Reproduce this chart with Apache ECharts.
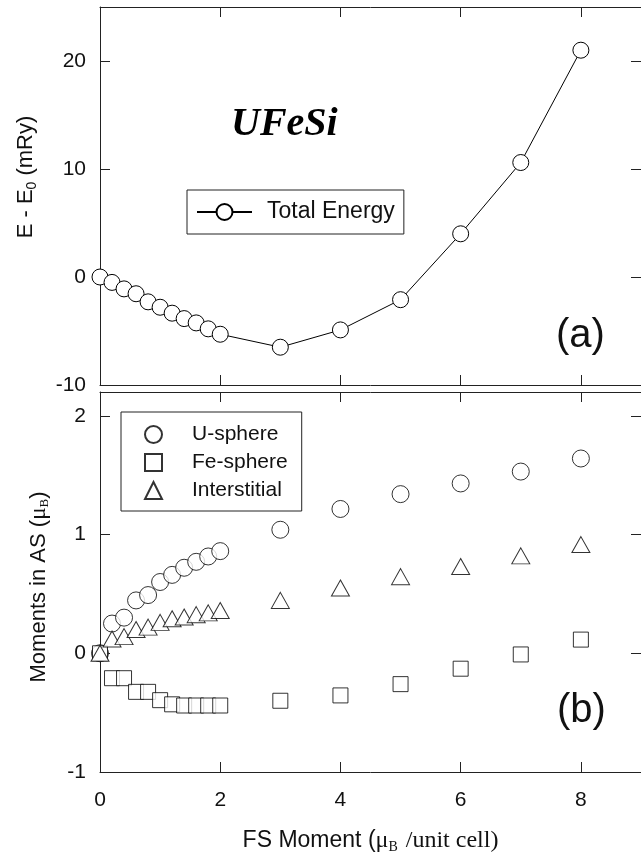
<!DOCTYPE html>
<html>
<head>
<meta charset="utf-8">
<script src="https://cdn.jsdelivr.net/npm/echarts@6/dist/echarts.min.js"></script>
<style>
	html, body { margin: 0; padding: 0; background: #fff; }
	#main { width: 641px; height: 859px; }
</style>
</head>
<body>
<div id="main"></div>
<script>
// FS moment (mu_B / unit cell)
var fsMoment = [0, 0.2, 0.4, 0.6, 0.8, 1.0, 1.2, 1.4, 1.6, 1.8, 2.0, 3, 4, 5, 6, 7, 8];
// (a) E - E0 in mRy
var totalEnergy = [0, -0.5, -1.1, -1.55, -2.3, -2.8, -3.35, -3.85, -4.25, -4.8, -5.3, -6.5, -4.9, -2.1, 4.0, 10.6, 21.0];
// (b) moments in atomic spheres (mu_B)
var uSphere = [0.0, 0.25, 0.30, 0.445, 0.49, 0.60, 0.66, 0.72, 0.77, 0.815, 0.86, 1.04, 1.215, 1.34, 1.43, 1.53, 1.64];
var feSphere = [0.0, -0.21, -0.21, -0.325, -0.325, -0.395, -0.43, -0.44, -0.44, -0.44, -0.44, -0.40, -0.355, -0.26, -0.13, -0.01, 0.115];
var interstitial = [0.0, 0.12, 0.14, 0.2, 0.22, 0.26, 0.29, 0.305, 0.325, 0.34, 0.36, 0.445, 0.55, 0.645, 0.73, 0.82, 0.915];

function pairs(ys) {
	return fsMoment.map(function(x, i) { return [x, ys[i]]; });
}

var sans = 'Liberation Sans';
var serif = 'Liberation Serif';
var ink = '#111';

function xAx(grid, pos, labels, extra) {
	var ax = {
		type: 'value',
		gridIndex: grid,
		position: pos,
		min: 0,
		max: 9,
		interval: 2,
		axisLine: { onZero: false, lineStyle: { color: '#222', width: 1 } },
		axisTick: { inside: true, length: 10, lineStyle: { color: '#222' } },
		axisLabel: { show: labels, showMaxLabel: false, margin: 18, fontFamily: sans, fontSize: 21, color: ink },
		splitLine: { show: false }
	};
	return Object.assign(ax, extra || {});
}

function yAx(grid, pos, min, max, step, labels, extra) {
	var ax = {
		type: 'value',
		gridIndex: grid,
		position: pos,
		min: min,
		max: max,
		interval: step,
		axisLine: { onZero: false, lineStyle: { color: '#222', width: 1 } },
		axisTick: { inside: true, length: 10, lineStyle: { color: '#222' } },
		axisLabel: { show: labels, showMaxLabel: false, margin: 14, fontFamily: sans, fontSize: 21, color: ink },
		splitLine: { show: false }
	};
	return Object.assign(ax, extra || {});
}

var option = {
	backgroundColor: '#fff',
	animation: false,
	grid: [
		{ left: 100, top: 7, right: -2, height: 378 },
		{ left: 100, top: 392, right: -2, height: 380 }
	],
	xAxis: [
		xAx(0, 'bottom', false),
		xAx(0, 'top', false),
		xAx(1, 'bottom', true, {
			name: '{s|FS Moment (}{m|\u03bc}{sb|B}{m| /unit cell)}',
			nameLocation: 'middle',
			nameGap: 56,
			nameTextStyle: {
				rich: {
					s: { fontFamily: sans, fontSize: 23, color: ink },
					m: { fontFamily: serif, fontSize: 24, color: ink },
					sb: { fontFamily: serif, fontSize: 14, color: ink, padding: [12, 2, 0, 0] }
				}
			}
		}),
		xAx(1, 'top', false)
	],
	yAxis: [
		yAx(0, 'left', -10, 25, 10, true, {
			name: '{s|E - E}{sb|0}{s| (mRy)}',
			nameLocation: 'middle',
			nameRotate: 90,
			nameGap: 61,
			nameTextStyle: {
				padding: [0, 0, 0, 38],
				rich: {
					s: { fontFamily: sans, fontSize: 22, color: ink },
					sb: { fontFamily: sans, fontSize: 14, color: ink, padding: [12, 0, 0, 0] }
				}
			}
		}),
		yAx(0, 'right', -10, 25, 10, false),
		yAx(1, 'left', -1, 2.2, 1, true, {
			name: '{s|Moments in AS (}{m|\u03bc}{sb|B}{s|)}',
			nameLocation: 'middle',
			nameRotate: 90,
			nameGap: 49,
			nameTextStyle: {
				padding: [0, 10, 0, 0],
				rich: {
					s: { fontFamily: sans, fontSize: 22, color: ink },
					m: { fontFamily: serif, fontSize: 23, color: ink },
					sb: { fontFamily: serif, fontSize: 13, color: ink, padding: [12, 0, 0, 0] }
				}
			}
		}),
		yAx(1, 'right', -1, 2.2, 1, false)
	],
	legend: [{
		data: ['Total Energy'],
		left: 187,
		top: 190,
		padding: [10, 9, 10, 9],
		borderColor: '#222',
		borderWidth: 1,
		itemWidth: 55,
		itemHeight: 20,
		selectedMode: false,
		textStyle: { fontFamily: sans, fontSize: 23, color: ink, lineHeight: 24, padding: [0, 0, 0, 10] }
	}, {
		data: ['U-sphere', 'Fe-sphere', 'Interstitial'],
		orient: 'vertical',
		left: 121,
		top: 412,
		padding: [12, 14, 10, 23],
		borderColor: '#222',
		borderWidth: 1,
		itemWidth: 17,
		itemHeight: 17,
		itemGap: 7,
		selectedMode: false,
		textStyle: { fontFamily: sans, fontSize: 21, color: ink, lineHeight: 20, padding: [0, 0, 0, 25] }
	}],
	graphic: [
		{ type: 'text', left: 231, top: 105, style: { text: 'UFeSi', font: 'italic bold 40px "Liberation Serif"', fill: '#000' } },
		{ type: 'text', left: 556, top: 316, style: { text: '(a)', font: '40px "Liberation Sans"', fill: ink } },
		{ type: 'text', left: 557, top: 691, style: { text: '(b)', font: '40px "Liberation Sans"', fill: ink } }
	],
	series: [{
		name: 'Total Energy',
		type: 'line',
		xAxisIndex: 0,
		yAxisIndex: 0,
		data: pairs(totalEnergy),
		symbol: 'circle',
		symbolSize: 16,
		lineStyle: { color: '#000', width: 1 },
		itemStyle: { color: '#fff', borderColor: '#000', borderWidth: 1 }
	}, {
		name: 'U-sphere',
		type: 'scatter',
		xAxisIndex: 2,
		yAxisIndex: 2,
		data: pairs(uSphere),
		symbol: 'circle',
		symbolSize: 17,
		itemStyle: { color: '#fff', borderColor: '#000', borderWidth: 1 }
	}, {
		name: 'Fe-sphere',
		type: 'scatter',
		xAxisIndex: 2,
		yAxisIndex: 2,
		data: pairs(feSphere),
		symbol: 'rect',
		symbolSize: 15,
		itemStyle: { color: '#fff', borderColor: '#000', borderWidth: 1 }
	}, {
		name: 'Interstitial',
		type: 'scatter',
		xAxisIndex: 2,
		yAxisIndex: 2,
		data: pairs(interstitial),
		symbol: 'triangle',
		symbolSize: [18, 16],
		itemStyle: { color: '#fff', borderColor: '#000', borderWidth: 1 }
	}]
};

var chart = echarts.init(document.getElementById('main'));
chart.setOption(option);
</script>
</body>
</html>
